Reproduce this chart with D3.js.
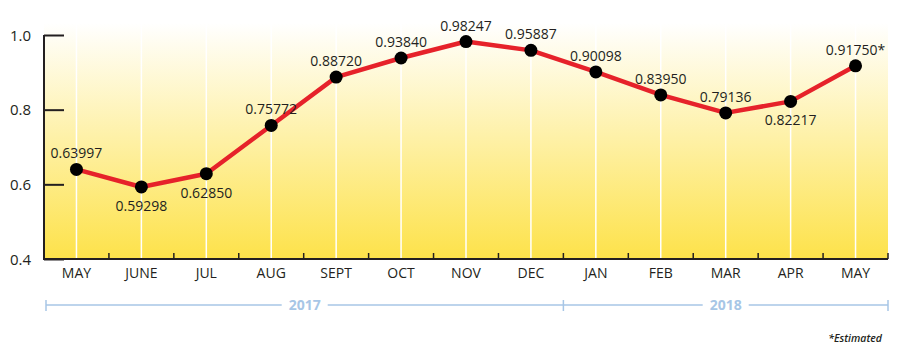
<!DOCTYPE html>
<html><head><meta charset="utf-8">
<script src="https://cdn.jsdelivr.net/npm/d3@7"></script>
<style>body{margin:0;background:#fff}svg{display:block}text{font-family:"Open Sans","DejaVu Sans",sans-serif}</style>
</head><body><svg id="c" width="900" height="353"></svg>
<script>
const months = ["MAY","JUNE","JUL","AUG","SEPT","OCT","NOV","DEC","JAN","FEB","MAR","APR","MAY"];
const values = [0.63997,0.59298,0.62850,0.75772,0.88720,0.93840,0.98247,0.95887,0.90098,0.83950,0.79136,0.82217,0.91750];
const labels = ["0.63997","0.59298","0.62850","0.75772","0.88720","0.93840","0.98247","0.95887","0.90098","0.83950","0.79136","0.82217","0.91750*"];
const labelBelow = [false,true,true,false,false,false,false,false,false,false,false,true,false];
const yTicks = [0.4,0.6,0.8,1.0];
const years = [{name:"2017",from:0,to:8},{name:"2018",from:8,to:13}];

const svg = d3.select("#c");
const L=44,R=888,T=35,B=259;
const ids = months.map((m,i)=>i);
const x = d3.scaleBand().domain(ids).range([L,R]);
const y = d3.scaleLinear().domain([0.4,1.0]).range([B,T]);
const cx = i=>x(i)+x.bandwidth()/2;

const defs = svg.append("defs");
const g = defs.append("linearGradient").attr("id","bg").attr("x1",0).attr("y1",0).attr("x2",0).attr("y2",1);
g.append("stop").attr("offset","0%").attr("stop-color","#ffffff");
g.append("stop").attr("offset","100%").attr("stop-color","#fde24a");
svg.append("rect").attr("x",L).attr("y",T-12).attr("width",R-L).attr("height",B-T+12).attr("fill","url(#bg)");

// white vertical gridlines
svg.append("g").selectAll("line").data(ids).join("line")
 .attr("x1",cx).attr("x2",cx).attr("y1",T-12).attr("y2",B)
 .attr("stroke","#fff").attr("stroke-width",1.5);

// y axis
const ya = svg.append("g").attr("transform",`translate(${L},0)`)
 .call(d3.axisRight(y).tickValues(yTicks).tickSize(20).tickFormat(d3.format(".1f")));
ya.select(".domain").remove();
ya.selectAll(".tick line").attr("stroke","#231f20").attr("stroke-width",2);
ya.selectAll(".tick text").attr("x",-13).attr("text-anchor","end").attr("font-size",15).attr("fill","#231f20").attr("dy","0.35em");
svg.append("line").attr("x1",L).attr("x2",L).attr("y1",T).attr("y2",B+1).attr("stroke","#231f20").attr("stroke-width",2);

// x axis
svg.append("line").attr("x1",L).attr("x2",R).attr("y1",B).attr("y2",B).attr("stroke","#231f20").attr("stroke-width",2);
svg.append("g").selectAll("line").data(ids.slice(1).concat([13])).join("line")
 .attr("x1",i=>i<13?x(i):R).attr("x2",i=>i<13?x(i):R).attr("y1",B).attr("y2",B-6)
 .attr("stroke","#231f20").attr("stroke-width",1.5);
svg.append("g").selectAll("text").data(ids).join("text")
 .attr("x",cx).attr("y",B+19).attr("text-anchor","middle").attr("font-size",14).attr("fill","#231f20")
 .text(i=>months[i]);

// line
svg.append("path").datum(ids).attr("fill","none").attr("stroke","#e6222a").attr("stroke-width",4.5)
 .attr("stroke-linejoin","round")
 .attr("d",d3.line().x(cx).y(i=>y(values[i])));
svg.append("g").selectAll("circle").data(ids).join("circle")
 .attr("cx",cx).attr("cy",i=>y(values[i])).attr("r",6.5).attr("fill","#000");
svg.append("g").selectAll("text").data(ids).join("text")
 .attr("x",cx).attr("y",i=>labelBelow[i]?y(values[i])+24:y(values[i])-11)
 .attr("text-anchor","middle").attr("font-size",14).attr("fill","#231f20")
 .text(i=>labels[i]);

// year bracket
const YB=305, blue="#a7c6e6";
const bx = i=>i<13?(i===0?L+2:x(i)):R;
years.forEach(yr=>{
  const x0=bx(yr.from), x1=bx(yr.to), mid=(x0+x1)/2;
  const tw=38;
  svg.append("line").attr("x1",x0).attr("x2",mid-tw/2-4).attr("y1",YB).attr("y2",YB).attr("stroke",blue).attr("stroke-width",1.5);
  svg.append("line").attr("x1",mid+tw/2+4).attr("x2",x1).attr("y1",YB).attr("y2",YB).attr("stroke",blue).attr("stroke-width",1.5);
  svg.append("text").attr("x",mid).attr("y",YB+5).attr("text-anchor","middle").attr("font-size",14).attr("font-weight","bold").attr("fill",blue).text(yr.name);
});
[0,8,13].forEach(i=>{
  svg.append("line").attr("x1",bx(i)).attr("x2",bx(i)).attr("y1",YB-5).attr("y2",YB+6).attr("stroke",blue).attr("stroke-width",1.5);
});
svg.append("text").attr("x",882).attr("y",342).attr("text-anchor","end").attr("font-size",10.5)
 .attr("font-style","italic").attr("font-weight","600").attr("fill","#231f20").text("*Estimated");
</script></body></html>
